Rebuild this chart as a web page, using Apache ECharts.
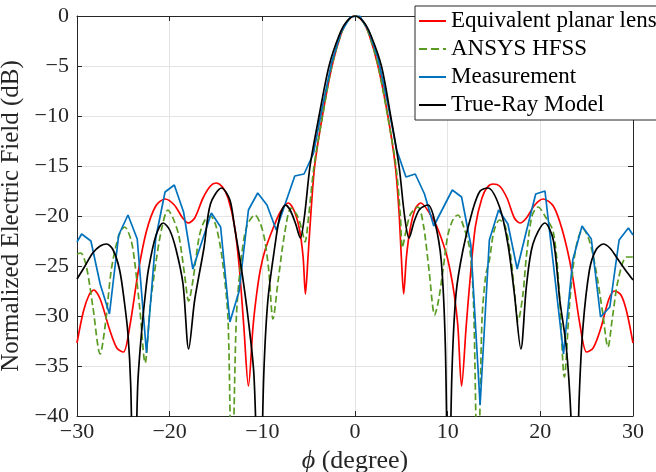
<!DOCTYPE html>
<html>
<head>
<meta charset="utf-8">
<script src="https://cdn.jsdelivr.net/npm/echarts@6/dist/echarts.min.js"></script>
<style>
html,body{margin:0;padding:0;background:#fff;}
#chart{width:656px;height:472px;}
</style>
</head>
<body>
<div id="chart"></div>
<script>
// ---- data (phi in degrees, field in dB) ----
const xTicks = [-30, -20, -10, 0, 10, 20, 30];
const yTicks = [-40, -35, -30, -25, -20, -15, -10, -5, 0];

const seriesNames = ['Equivalent planar lens', 'ANSYS HFSS', 'Measurement', 'True-Ray Model'];

const planarLens = [
  [-30,-32.7],[-29.3,-29.5],[-28.7,-27.9],[-28.2,-27.4],[-27.5,-28.3],[-26.5,-31.3],[-25.7,-33.2],[-25.0,-33.6],
  [-24.3,-31.0],[-23.4,-25.6],[-22.5,-21.5],[-21.5,-19.0],[-20.5,-18.3],[-19.5,-18.9],[-18.6,-20.2],[-18.0,-20.7],
  [-17.3,-20.2],[-16.4,-18.2],[-15.6,-17.0],[-15.0,-16.7],[-14.3,-17.1],[-13.7,-18.2],[-13.0,-21.0],[-12.5,-25.0],
  [-12.0,-31.0],[-11.5,-37.0],[-11.0,-31.0],[-10.6,-27.7],[-10.2,-25.3],[-9.7,-23.4],[-8.7,-20.9],[-8.0,-19.5],
  [-7.2,-18.7],[-6.6,-19.4],[-6.0,-21.3],[-5.6,-24.1],[-5.35,-27.8],[-5.07,-24.1],[-4.75,-19.6],[-4.35,-15.0],
  [-3.52,-10.0],[-2.48,-5.0],[-1.5,-1.8],[-0.8,-0.5],[0,0],
  [0.8,-0.5],[1.5,-1.8],[2.48,-5.0],[3.55,-10.0],[4.35,-15.0],[4.75,-19.6],[5.0,-24.1],[5.25,-27.8],[5.55,-24.1],
  [5.95,-21.3],[6.5,-19.3],[7.1,-18.7],[7.9,-19.5],[8.8,-21.0],[9.8,-23.6],[10.3,-25.6],[10.7,-27.8],[11.1,-31.0],
  [11.5,-37.0],[12.0,-31.0],[12.45,-26.0],[13.0,-21.0],[13.7,-18.2],[14.3,-17.1],[14.9,-16.8],[15.6,-17.0],
  [16.4,-18.2],[17.2,-20.2],[17.8,-20.7],[18.5,-20.2],[19.4,-18.9],[20.3,-18.3],[21.4,-19.0],[22.4,-21.5],
  [23.4,-25.6],[24.3,-31.0],[25.0,-33.6],[25.7,-33.2],[26.5,-31.3],[27.4,-28.3],[28.0,-27.5],[28.7,-27.9],
  [29.3,-29.5],[30,-32.7]
];

const hfss = [
  [-30,-23.8],[-29.6,-23.7],[-29.0,-25.0],[-28.3,-29.0],[-27.5,-33.8],[-26.9,-30.5],[-26.3,-25.4],[-25.5,-22.0],
  [-24.85,-21.1],[-24.2,-22.3],[-23.8,-24.4],[-23.2,-29.5],[-22.65,-34.7],[-22.1,-29.0],[-21.4,-24.1],[-20.8,-21.0],
  [-20.2,-19.4],[-19.6,-20.3],[-19.0,-22.0],[-18.4,-25.8],[-17.95,-28.5],[-17.5,-26.5],[-16.8,-22.0],[-16.2,-20.4],
  [-15.6,-20.0],[-15.0,-21.0],[-14.3,-24.5],[-13.7,-30.4],[-13.3,-48],[-12.8,-30.1],[-12.3,-24.5],[-11.7,-21.1],
  [-10.8,-19.9],[-10.2,-20.8],[-9.74,-22.4],[-9.3,-25.5],[-8.85,-30.3],[-8.3,-26.5],[-7.6,-21.8],[-6.9,-19.2],
  [-6.2,-20.0],[-5.7,-21.5],[-5.4,-22.6],[-5.0,-20.0],[-4.42,-15.0],[-3.5,-10.0],[-2.5,-5.0],[-1.5,-1.8],[-0.8,-0.5],[0,0],
  [0.8,-0.5],[1.5,-1.8],[2.5,-5.0],[3.52,-10.0],[4.42,-15.0],[4.9,-20.0],[5.1,-23.2],[5.5,-21.5],[6.0,-19.8],
  [6.8,-19.1],[7.4,-21.0],[8.0,-25.5],[8.6,-29.9],[9.0,-28.5],[9.5,-25.4],[10.0,-22.0],[10.6,-20.3],[11.1,-19.9],
  [11.7,-21.0],[12.4,-23.4],[12.8,-29.0],[13.25,-48],[13.7,-30.5],[14.1,-26.0],[14.5,-24.4],[15.0,-21.5],
  [15.6,-20.4],[16.2,-21.0],[16.8,-24.0],[17.2,-27.5],[17.6,-30.5],[18.1,-28.0],[18.5,-24.0],[19.1,-20.0],
  [19.75,-19.1],[20.5,-20.0],[21.4,-21.6],[22.0,-27.0],[22.6,-36.1],[23.1,-29.5],[23.5,-25.4],[24.0,-22.5],
  [24.6,-21.3],[25.3,-22.5],[26.0,-25.4],[26.7,-29.5],[27.3,-33.1],[27.8,-30.0],[28.4,-26.4],[29.3,-24.1],[30,-24.1]
];

const measurement = [
  [-30,-22.6],[-29.5,-21.8],[-28.5,-22.5],[-27.5,-26.8],[-26.5,-29.8],[-25.5,-21.9],[-24.5,-19.9],[-23.5,-22.3],
  [-22.5,-33.7],[-21.5,-22.2],[-20.5,-17.6],[-19.5,-16.9],[-18.5,-19.6],[-17.5,-25.3],[-16.5,-22.5],[-15.5,-19.7],
  [-14.5,-21.1],[-13.5,-30.6],[-12.5,-27.5],[-11.5,-19.4],[-10.5,-17.7],[-9.5,-18.9],[-8.5,-21.4],[-7.5,-18.7],
  [-6.5,-16.0],[-5.5,-15.8],[-4.5,-13.8],[-3.5,-9.0],[-2.5,-4.6],[-1.5,-1.6],[-0.5,-0.1],[0.5,0],[1.5,-1.5],
  [2.5,-4.3],[3.5,-8.6],[4.5,-13.4],[5.5,-16.1],[6.5,-15.8],[7.5,-17.8],[8.5,-21.0],[9.5,-19.2],[10.5,-17.4],
  [11.5,-18.1],[12.5,-22.9],[13.5,-38.9],[14.5,-22.4],[15.5,-19.4],[16.5,-20.8],[17.5,-25.3],[18.5,-21.5],
  [19.5,-17.8],[20.5,-17.5],[21.5,-25.6],[22.5,-33.8],[23.5,-24.4],[24.5,-21.0],[25.5,-22.3],[26.5,-30.1],
  [27.5,-29.1],[28.5,-22.4],[29.5,-21.2],[30,-21.9]
];

const trueRay = [
  [-30,-26.3],[-29.2,-25.1],[-28.3,-23.7],[-27.5,-23.0],[-26.8,-22.8],[-26.1,-23.4],[-25.4,-25.4],[-24.9,-28.5],
  [-24.5,-31.8],[-24.2,-37.0],[-23.85,-52],[-23.45,-37.0],[-23.05,-31.8],[-22.6,-27.6],[-22.3,-25.4],[-21.5,-22.0],
  [-20.7,-20.7],[-20.0,-21.4],[-19.3,-23.4],[-18.56,-26.8],[-17.95,-33.3],[-17.3,-28.4],[-16.3,-23.2],[-15.6,-18.8],
  [-14.4,-17.2],[-13.5,-18.4],[-13.0,-21.1],[-12.3,-25.0],[-11.55,-30.1],[-10.9,-36.0],[-10.3,-52],[-9.85,-36.0],
  [-9.4,-28.4],[-8.66,-23.1],[-8.1,-20.0],[-7.5,-18.9],[-7.0,-19.4],[-6.4,-20.8],[-5.9,-22.2],[-5.45,-20.0],
  [-4.85,-15.0],[-3.88,-10.0],[-2.8,-5.0],[-1.7,-1.9],[-0.9,-0.55],[0,0],
  [0.9,-0.55],[1.7,-1.9],[2.85,-5.0],[3.85,-10.0],[4.75,-15.0],[5.35,-20.0],[5.83,-22.2],[6.4,-20.5],[7.0,-19.3],
  [7.9,-18.9],[8.6,-20.5],[9.3,-24.4],[9.75,-33.0],[10.1,-52],[10.45,-36.0],[10.9,-27.8],[11.65,-23.4],[12.7,-19.4],
  [13.5,-17.5],[14.35,-17.2],[15.6,-19.1],[16.5,-22.8],[17.2,-27.8],[17.9,-33.3],[18.5,-27.0],[19.2,-22.8],
  [20.5,-20.7],[21.4,-22.4],[22.1,-28.4],[22.8,-33.1],[23.3,-40.0],[23.75,-52],[24.2,-38.0],[24.6,-31.1],
  [25.3,-25.4],[26.0,-23.4],[26.8,-22.8],[27.5,-23.2],[28.2,-24.1],[29.1,-25.3],[30,-26.4]
];

// ---- chart ----
const FONT = 'Liberation Serif';
const AX = '#262626';
const minusFmt = v => String(v).replace('-', '\u2212');

const chart = echarts.init(document.getElementById('chart'), null, {renderer: 'canvas'});

const baseAxis = {
  type: 'value',
  axisLine: {show: true, onZero: false, lineStyle: {color: AX, width: 1}},
  axisTick: {show: true, inside: true, length: 5, lineStyle: {color: AX, width: 1}},
  splitLine: {show: false},
  axisLabel: {show: false}
};

const mkLine = (name, data, color, type, width, smooth) => ({
  name, type: 'line', data, symbol: 'none', showSymbol: false, smooth,
  lineStyle: {color, width, type},
  itemStyle: {color},
  emphasis: {disabled: true},
  clip: true,
  animation: false
});

chart.setOption({
  animation: false,
  backgroundColor: '#fff',
  grid: {left: 77, right: 23, top: 16, bottom: 56, containLabel: false, outerBoundsMode: 'none'},
  xAxis: [
    Object.assign({}, baseAxis, {
      position: 'bottom', min: xTicks[0], max: xTicks[xTicks.length - 1], interval: 10,
      axisLabel: {show: true, fontFamily: FONT, fontSize: 22, color: AX, margin: 5, formatter: minusFmt},
      splitLine: {show: true, lineStyle: {color: '#e4e4e4', width: 1}},
      name: '{i|\u03d5} (degree)', nameLocation: 'middle', nameGap: 30,
      nameTextStyle: {fontFamily: FONT, fontSize: 26, color: AX,
        rich: {i: {fontFamily: FONT, fontSize: 26, fontStyle: 'italic', color: AX}}}
    }),
    Object.assign({}, baseAxis, {position: 'top', min: xTicks[0], max: xTicks[xTicks.length - 1], interval: 10})
  ],
  yAxis: [
    Object.assign({}, baseAxis, {
      position: 'left', min: yTicks[0], max: yTicks[yTicks.length - 1], interval: 5,
      axisLabel: {show: true, fontFamily: FONT, fontSize: 22, color: AX, margin: 8, formatter: minusFmt},
      splitLine: {show: true, lineStyle: {color: '#e4e4e4', width: 1}},
      name: 'Normalized Electric Field (dB)', nameLocation: 'middle', nameGap: 45, nameRotate: 90,
      nameTextStyle: {fontFamily: FONT, fontSize: 25, color: AX}
    }),
    Object.assign({}, baseAxis, {position: 'right', min: yTicks[0], max: yTicks[yTicks.length - 1], interval: 5})
  ],
  legend: {
    orient: 'vertical', left: 415, top: 6,
    itemWidth: 27, itemHeight: 10, itemGap: 4,
    padding: [3, 40, 3, 3],
    backgroundColor: '#fff', borderColor: AX, borderWidth: 1, borderRadius: 0,
    itemStyle: {opacity: 0},
    textStyle: {fontFamily: FONT, fontSize: 23, color: '#000', lineHeight: 24},
    data: seriesNames
  },
  series: [
    mkLine(seriesNames[0], planarLens, '#ff0000', 'solid', 1.7, 0.3),
    mkLine(seriesNames[1], hfss, '#5a9c22', 'dashed', 1.7, 0.3),
    mkLine(seriesNames[2], measurement, '#0072bd', 'solid', 1.7, false),
    mkLine(seriesNames[3], trueRay, '#000000', 'solid', 1.7, 0.3)
  ]
});
</script>
</body>
</html>
